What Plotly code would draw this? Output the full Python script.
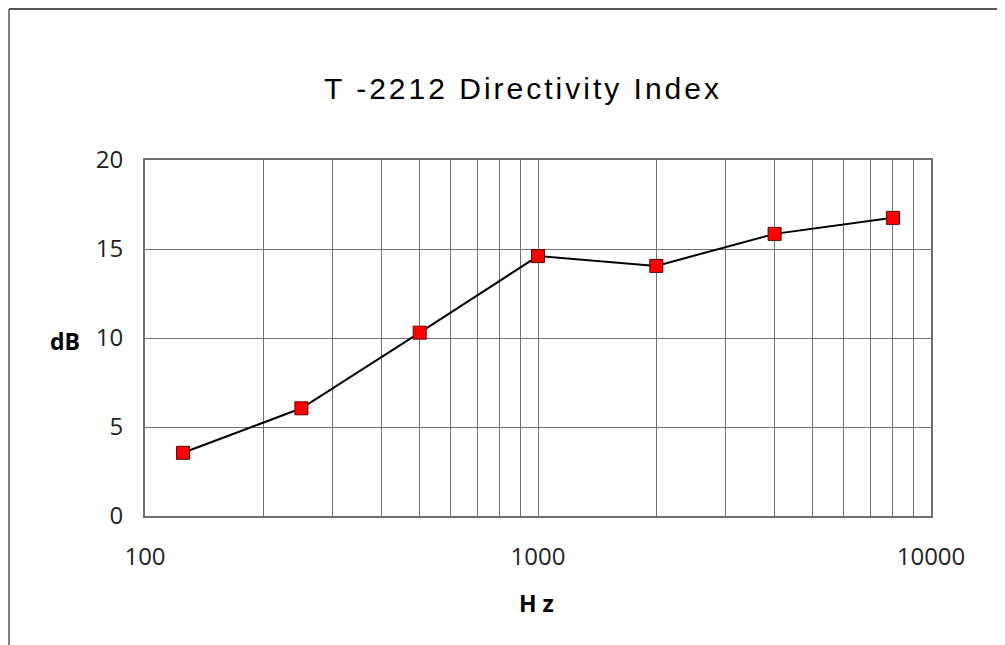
import plotly.graph_objects as go

# frequency (Hz) vs directivity index (dB)
freq_hz = [125, 250, 500, 1000, 2000, 4000, 8000]
di_db = [3.55, 6.05, 10.3, 14.6, 14.05, 15.85, 16.75]

x_major = [100, 1000, 10000]
x_minor = [200, 300, 400, 500, 600, 700, 800, 900,
           2000, 3000, 4000, 5000, 6000, 7000, 8000, 9000]

grid_col = "#707070"
tick_font = dict(family="Open Sans", size=24, color="#222")

# page body has an 8px margin, so the figure starts at (8, 8) on screen
OFF = 8
PL, PT, PW, PH = 145, 160, 786, 356   # plot area in screen pixels


def px(x):
    return (x - PL) / PW


def py(y):
    return (PT + PH - y) / PH


fig = go.Figure()
fig.add_trace(go.Scatter(
    x=freq_hz, y=di_db, mode="lines+markers",
    line=dict(color="black", width=2),
    marker=dict(symbol="square", size=13, color="#ff0000",
                line=dict(color="#600000", width=1)),
    showlegend=False, hoverinfo="x+y"))

fig.update_layout(
    width=1005 - OFF, height=645 - OFF,
    paper_bgcolor="white", plot_bgcolor="white",
    margin=dict(l=PL - OFF, r=1005 - PL - PW, t=PT - OFF, b=645 - PT - PH),
    title=dict(text='<span style="letter-spacing:3px">T -2212 Directivity Index</span>',
               x=(523 - OFF) / (1005 - OFF), xanchor="center",
               y=1 - (88 - OFF) / (645 - OFF), yanchor="middle",
               font=dict(family="Liberation Sans", size=30, color="black")),
    xaxis=dict(type="log", range=[2, 4], tickvals=x_major,
               ticktext=[str(v) for v in x_major],
               showgrid=True, gridcolor=grid_col, gridwidth=1.3,
               minor=dict(tickvals=x_minor, showgrid=True,
                          gridcolor=grid_col, gridwidth=1.3, ticks=""),
               showline=True, linecolor=grid_col, linewidth=2, mirror=True,
               ticks="", tickfont=tick_font, ticklabelstandoff=18, zeroline=False),
    yaxis=dict(range=[0, 20], dtick=5,
               showgrid=True, gridcolor=grid_col, gridwidth=1.3,
               showline=True, linecolor=grid_col, linewidth=2, mirror=True,
               ticks="", tickfont=tick_font, ticklabelstandoff=15, zeroline=False),
)

# axis titles as annotations (the y title is horizontal)
fig.add_annotation(text="<b>dB</b>", xref="paper", yref="paper",
                   x=px(65), y=py(341), xanchor="center", yanchor="middle",
                   showarrow=False,
                   font=dict(family="Open Sans", size=23, color="black"))
fig.add_annotation(text="<b>H z</b>", xref="paper", yref="paper",
                   x=px(536), y=py(603), xanchor="center", yanchor="middle",
                   showarrow=False,
                   font=dict(family="Open Sans", size=23, color="black"))

# outer chart border (only top and left edges show in the picture)
fig.add_shape(type="line", xref="paper", yref="paper",
              x0=px(9), y0=py(9), x1=px(1010), y1=py(9),
              line=dict(color="#555", width=2))
fig.add_shape(type="line", xref="paper", yref="paper",
              x0=px(9), y0=py(9), x1=px(9), y1=py(650),
              line=dict(color="#555", width=1.5))

fig.write_html("out.html")
